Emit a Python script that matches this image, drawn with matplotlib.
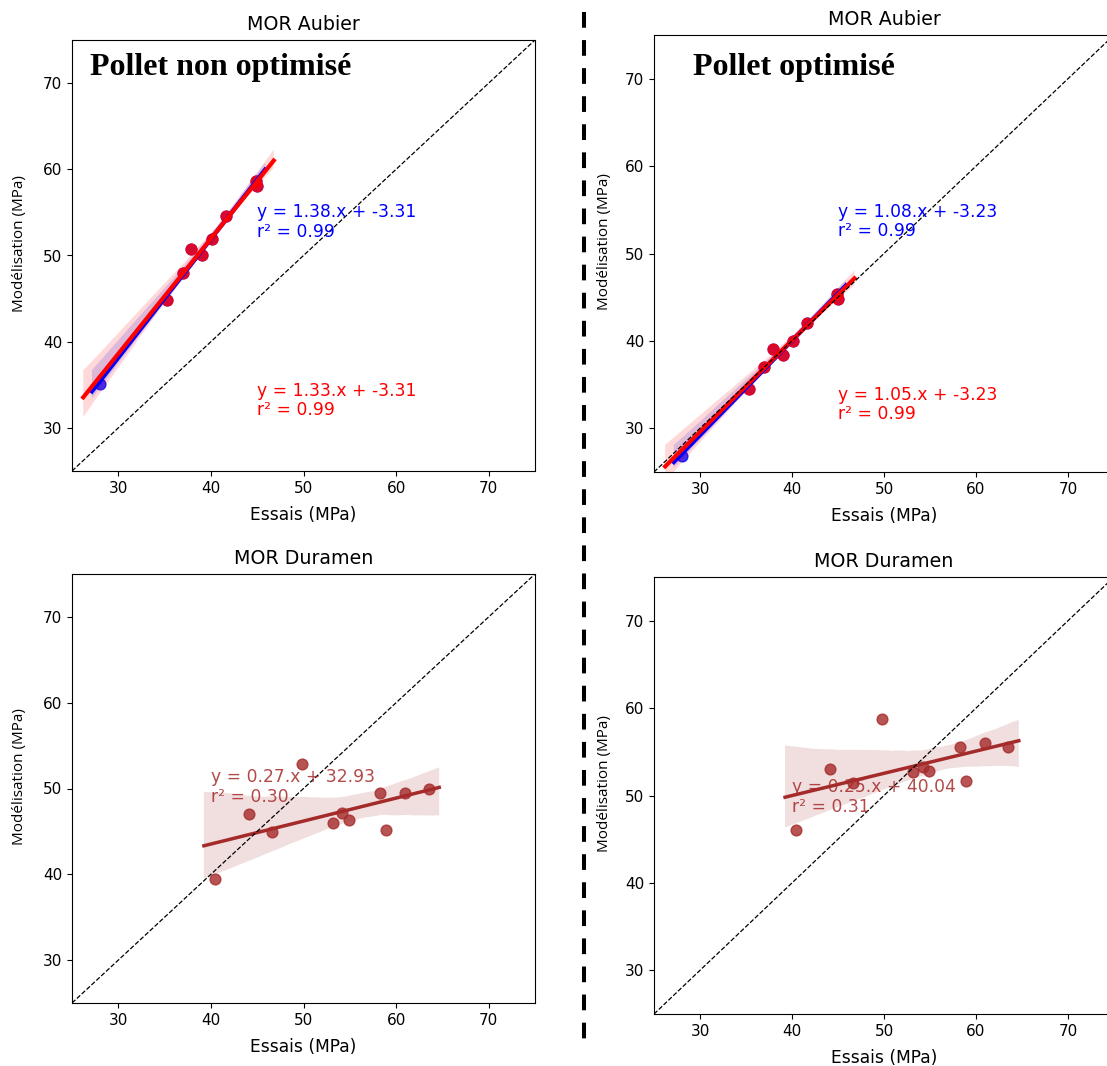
import numpy as np
import matplotlib
matplotlib.use('Agg')
import matplotlib.pyplot as plt
import seaborn as sns
from matplotlib.lines import Line2D

# MOR Aubier : essais (MPa), communs aux deux modèles
aub_essais = [28.0, 35.3, 37.0, 37.9, 39.0, 40.1, 41.6, 44.9, 45.0]
# Pollet non optimisé
aub_bleu_no = [35.1, 44.8, 48.0, 50.7, 50.0, 51.9, 54.6, 58.6, 58.1]
aub_rouge_no = [44.8, 48.0, 50.7, 50.0, 51.9, 54.6, 58.6, 58.1]
# Pollet optimisé
aub_bleu_opt = [26.8, 34.5, 37.0, 39.1, 38.4, 40.0, 42.1, 45.4, 44.8]
aub_rouge_opt = [34.5, 37.0, 39.1, 38.4, 40.0, 42.1, 45.4, 44.8]

# MOR Duramen
dur_essais = [40.4, 44.1, 46.6, 49.8, 53.2, 54.2, 54.9, 58.3, 58.9, 61.0, 63.5]
dur_no = [39.4, 47.0, 44.9, 52.8, 46.0, 47.1, 46.3, 49.5, 45.2, 49.5, 49.9]
dur_opt = [46.1, 53.0, 51.4, 58.7, 52.7, 53.3, 52.8, 55.5, 51.7, 56.0, 55.6]

eq_aub_no = ['y = 1.38.x + -3.31\nr² = 0.99', 'y = 1.33.x + -3.31\nr² = 0.99']
eq_aub_opt = ['y = 1.08.x + -3.23\nr² = 0.99', 'y = 1.05.x + -3.23\nr² = 0.99']
eq_dur_no = 'y = 0.27.x + 32.93\nr² = 0.30'
eq_dur_opt = 'y = 0.25.x + 40.04\nr² = 0.31'

lims = [25, 75]
ticks = [30, 40, 50, 60, 70]

W, H = 1107, 1066
fig = plt.figure(figsize=(W / 100, H / 100), dpi=100)


def box(left, top, right, bottom):
    return [left / W, 1 - bottom / H, (right - left) / W, (bottom - top) / H]


ax1 = fig.add_axes(box(72, 40, 535, 471))
ax2 = fig.add_axes(box(654, 35, 1114, 472))
ax3 = fig.add_axes(box(72, 574, 535, 1003))
ax4 = fig.add_axes(box(654, 577, 1114, 1014))

for ax, yb, yr in [(ax1, aub_bleu_no, aub_rouge_no), (ax2, aub_bleu_opt, aub_rouge_opt)]:
    sns.regplot(x=np.array(aub_essais), y=np.array(yb), ax=ax, color='blue', truncate=False,
                seed=1, scatter_kws={'s': 60}, line_kws={'lw': 3})
    # laisser la marge s'étendre autour de la droite bleue (comme les anciennes versions)
    for ln in ax.lines:
        ln.sticky_edges.x[:] = []
    sns.regplot(x=np.array(aub_essais[1:]), y=np.array(yr), ax=ax, color='red', truncate=False,
                seed=1, scatter_kws={'s': 60}, line_kws={'lw': 3})

for ax, yd in [(ax3, dur_no), (ax4, dur_opt)]:
    sns.regplot(x=np.array(dur_essais), y=np.array(yd), ax=ax, color='brown', truncate=False,
                seed=1, scatter_kws={'s': 60}, line_kws={'lw': 2.5})

ax1.text(45, 51.7, eq_aub_no[0], color='blue', fontsize=12.3, linespacing=1.1, va='bottom')
ax1.text(45, 31.0, eq_aub_no[1], color='red', fontsize=12.3, linespacing=1.1, va='bottom')
ax2.text(45, 51.5, eq_aub_opt[0], color='blue', fontsize=12.3, linespacing=1.1, va='bottom')
ax2.text(45, 30.6, eq_aub_opt[1], color='red', fontsize=12.3, linespacing=1.1, va='bottom')
ax3.text(40, 48.0, eq_dur_no, color='brown', alpha=0.85, fontsize=12.3, linespacing=1.1, va='bottom')
ax4.text(40, 47.7, eq_dur_opt, color='brown', alpha=0.85, fontsize=12.3, linespacing=1.1, va='bottom')

titles = ['MOR Aubier', 'MOR Aubier', 'MOR Duramen', 'MOR Duramen']
ylab_pos = [(-0.097, 0.527), (-0.091, 0.527), (-0.097, 0.527), (-0.091, 0.527)]
for ax, t, yl in zip([ax1, ax2, ax3, ax4], titles, ylab_pos):
    ax.plot(lims, lims, 'k--', lw=0.9)
    ax.set_xlim(lims)
    ax.set_ylim(lims)
    ax.set_xticks(ticks)
    ax.set_yticks(ticks)
    ax.tick_params(labelsize=11)
    ax.set_title(t, fontsize=13.7, pad=7)
    ax.set_xlabel('Essais (MPa)', fontsize=12.3, labelpad=7.5)
    ax.set_ylabel('Modélisation (MPa)', fontsize=11, fontfamily='Open Sans')
    ax.yaxis.set_label_coords(*yl)

fig.text(90 / W, 1 - 75 / H, 'Pollet non optimisé', fontfamily='Liberation Serif',
         fontweight='bold', fontsize=23, va='baseline')
fig.text(693 / W, 1 - 75 / H, 'Pollet optimisé', fontfamily='Liberation Serif',
         fontweight='bold', fontsize=23, va='baseline')

# séparation verticale
fig.add_artist(Line2D([583.5 / W, 583.5 / W], [1 - 11.7 / H, 1 - 1048 / H], transform=fig.transFigure,
                      color='black', lw=2.9, linestyle=(0, (3.9, 3.07))))

fig.savefig('out.png', dpi=100)
